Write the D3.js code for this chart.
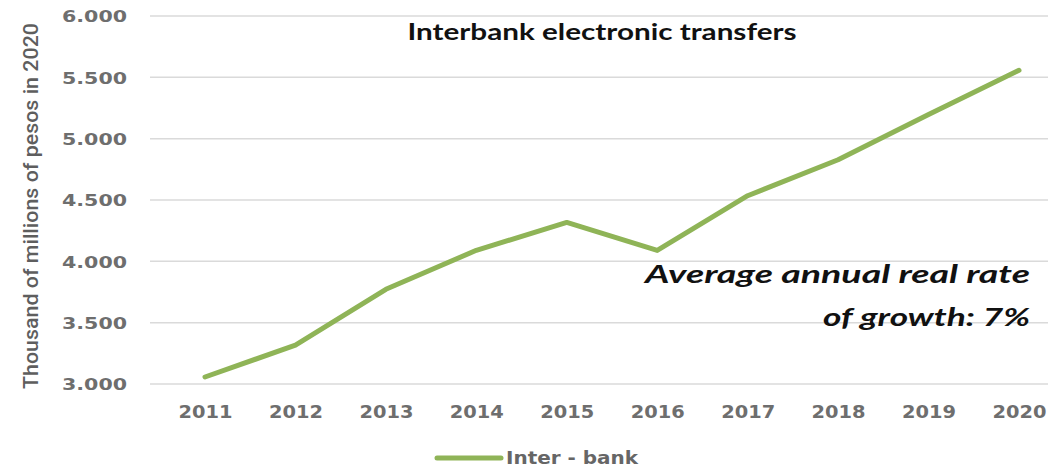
<!DOCTYPE html>
<html>
<head>
<meta charset="utf-8">
<script src="https://cdn.jsdelivr.net/npm/d3@7"></script>
<style>
  html, body { margin: 0; padding: 0; background: #fff; }
  svg { display: block; }
</style>
</head>
<body>
<svg id="chart" width="1056" height="468"></svg>
<script>
const years = ["2011","2012","2013","2014","2015","2016","2017","2018","2019","2020"];
const interBank = [3057, 3317, 3772, 4090, 4317, 4089, 4535, 4828, 5197, 5557];
const yTicks = [3000, 3500, 4000, 4500, 5000, 5500, 6000];
const seriesName = "Inter - bank";
const chartTitle = "Interbank electronic transfers";
const yAxisTitle = "Thousand of  millions of pesos in 2020";
const noteLines = ["Average annual real rate", "of growth: 7%"];

const svg = d3.select("#chart");
const gridLeft = 150, gridRight = 1048;

const x = d3.scalePoint().domain(years).range([205, 1019]);
const y = d3.scaleLinear().domain([3000, 6000]).range([384, 16]);

// gridlines
svg.append("g").selectAll("line").data(yTicks).join("line")
  .attr("x1", gridLeft).attr("x2", gridRight)
  .attr("y1", d => y(d)).attr("y2", d => y(d))
  .attr("stroke", "#dadada").attr("stroke-width", 1.5);

// y axis labels
const yAxis = d3.axisLeft(y).tickValues(yTicks).tickSize(0).tickPadding(0)
  .tickFormat(d => d3.format(",")(d).replace(/,/g, "."));
const gy = svg.append("g").attr("transform", "translate(127,0)").call(yAxis);
gy.select(".domain").remove();
gy.selectAll("text")
  .attr("font-family", "DejaVu Sans").attr("font-weight", "bold")
  .attr("font-size", 16).attr("fill", "#6e6e6e")
  .attr("dy", "0.36em")
  .attr("textLength", 65).attr("lengthAdjust", "spacingAndGlyphs");

// x axis labels
const xAxis = d3.axisBottom(x).tickSize(0).tickPadding(0);
const gx = svg.append("g").attr("transform", "translate(0,418)").call(xAxis);
gx.select(".domain").remove();
gx.selectAll("text")
  .attr("font-family", "DejaVu Sans").attr("font-weight", "bold")
  .attr("font-size", 17).attr("fill", "#6e6e6e")
  .attr("y", 0).attr("dy", 0)
  .attr("textLength", 54).attr("lengthAdjust", "spacingAndGlyphs");

// line
const lineColor = "#8fb457";
const line = d3.line().x((d, i) => x(years[i])).y(d => y(d));
svg.append("path").datum(interBank)
  .attr("d", line)
  .attr("fill", "none").attr("stroke", lineColor)
  .attr("stroke-width", 5).attr("stroke-linejoin", "round").attr("stroke-linecap", "round");

// title
svg.append("text").attr("x", 602).attr("y", 40)
  .attr("text-anchor", "middle")
  .attr("font-family", "Lato").attr("font-weight", "bold").attr("font-size", 22)
  .attr("fill", "#111")
  .attr("textLength", 389).attr("lengthAdjust", "spacingAndGlyphs")
  .text(chartTitle);

// y axis title
svg.append("text")
  .attr("transform", "translate(38,206) rotate(-90)")
  .attr("text-anchor", "middle")
  .attr("font-family", "Roboto").attr("font-weight", 500).attr("font-size", 21)
  .attr("fill", "#5e5e5e")
  .attr("textLength", 366).attr("lengthAdjust", "spacingAndGlyphs")
  .text(yAxisTitle);

// annotation
const noteY = [283, 326], noteW = [385, 207];
svg.append("g").selectAll("text").data(noteLines).join("text")
  .attr("x", 1030).attr("y", (d, i) => noteY[i])
  .attr("text-anchor", "end")
  .attr("font-family", "Lato").attr("font-weight", "bold").attr("font-style", "italic")
  .attr("font-size", 25).attr("fill", "#111")
  .attr("textLength", (d, i) => noteW[i]).attr("lengthAdjust", "spacingAndGlyphs")
  .text(d => d);

// legend
const lg = svg.append("g");
lg.append("line").attr("x1", 437).attr("x2", 501).attr("y1", 458).attr("y2", 458)
  .attr("stroke", lineColor).attr("stroke-width", 5).attr("stroke-linecap", "round");
lg.append("text").attr("x", 506).attr("y", 464)
  .attr("font-family", "DejaVu Sans Condensed, DejaVu Sans").attr("font-weight", "bold")
  .attr("font-size", 17).attr("fill", "#666")
  .attr("textLength", 132).attr("lengthAdjust", "spacingAndGlyphs")
  .text(seriesName);
</script>
</body>
</html>
